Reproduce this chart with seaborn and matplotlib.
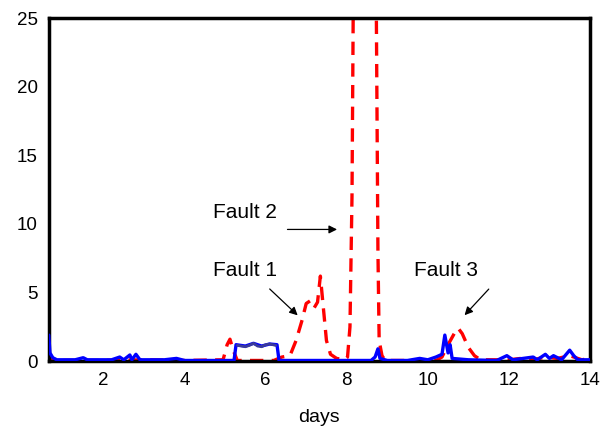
import matplotlib
matplotlib.use("Agg")
import matplotlib.pyplot as plt
import seaborn as sns

# red dashed trace
red_days = [0.65, 0.7, 0.8, 1.5, 2.0, 3.0, 4.0, 4.95, 5.05, 5.12, 5.2, 5.3, 6.2, 6.4,
            6.6, 6.75, 6.9, 7.0, 7.1, 7.2, 7.28, 7.35, 7.42, 7.5, 7.6, 7.75, 7.95,
            8.02, 8.08, 8.13, 8.17, 8.72, 8.77, 8.8, 8.87, 8.95, 10.2, 10.35, 10.5,
            10.65, 10.75, 10.85, 11.0, 11.15, 11.3, 12.0, 12.3, 12.6, 12.9, 13.2,
            13.5, 13.8, 14.0]
red_vals = [0.8, 0.2, 0.05, 0.05, 0.05, 0.1, 0.05, 0.1, 1.2, 1.6, 0.8, 0.05, 0.05, 0.3,
            0.4, 1.5, 3.0, 4.2, 4.4, 3.9, 4.3, 6.2, 4.0, 1.5, 0.5, 0.2, 0.1,
            0.3, 2.5, 12.0, 30.0, 30.0, 8.0, 1.5, 0.4, 0.05, 0.05, 0.3, 1.2,
            2.0, 2.4, 2.0, 1.0, 0.4, 0.1, 0.1, 0.2, 0.1, 0.3, 0.2,
            0.4, 0.1, 0.2]

# blue solid trace
blue_days = [0.65, 0.68, 0.75, 0.85, 1.3, 1.5, 1.6, 2.2, 2.4, 2.5, 2.65, 2.7, 2.8, 2.9,
             3.5, 3.8, 4.0, 5.0, 5.22, 5.27, 5.5, 5.7, 5.9, 6.1, 6.28, 6.33, 8.6,
             8.7, 8.77, 8.82, 9.0, 9.5, 9.8, 10.0, 10.2, 10.35, 10.42, 10.5, 10.55,
             10.6, 11.0, 11.7, 11.95, 12.1, 12.6, 12.7, 12.9, 13.0, 13.1, 13.3,
             13.5, 13.6, 13.7, 14.0]
blue_vals = [1.9, 0.6, 0.25, 0.1, 0.1, 0.25, 0.1, 0.1, 0.3, 0.1, 0.45, 0.1, 0.5, 0.1,
             0.1, 0.2, 0.05, 0.05, 0.05, 1.2, 1.1, 1.3, 1.1, 1.25, 1.2, 0.05, 0.05,
             0.3, 0.9, 0.2, 0.05, 0.05, 0.2, 0.1, 0.3, 0.5, 1.9, 0.6, 1.2,
             0.2, 0.1, 0.05, 0.4, 0.1, 0.3, 0.1, 0.5, 0.2, 0.4, 0.1,
             0.8, 0.4, 0.1, 0.1]

# darker section on top of the block near day 5-6
navy_days = [5.3, 5.4, 5.5, 5.6, 5.7, 5.8, 5.9, 6.0, 6.1, 6.25]
navy_vals = [1.15, 1.1, 1.05, 1.15, 1.3, 1.1, 1.05, 1.2, 1.25, 1.15]

sns.set_style("white")
plt.rcParams["font.family"] = ["Liberation Sans", "DejaVu Sans"]
plt.rcParams["text.color"] = "black"
plt.rcParams["axes.labelcolor"] = "black"

fig = plt.figure(figsize=(6.02, 4.32), dpi=100)
ax = fig.add_axes([0.081, 0.164, 0.899, 0.794])

sns.lineplot(x=red_days, y=red_vals, sort=False, estimator=None, ax=ax,
             color="#ff0000", linewidth=2.4, linestyle=(0, (4, 2.5)), zorder=2)
sns.lineplot(x=blue_days, y=blue_vals, sort=False, estimator=None, ax=ax,
             color="#0000ff", linewidth=2.4, zorder=3)
sns.lineplot(x=navy_days, y=navy_vals, sort=False, estimator=None, ax=ax,
             color="#3a3a9a", linewidth=2.0, zorder=4)

ax.set_xlim(0.65, 14)
ax.set_ylim(0, 25)
ax.set_xticks([2, 4, 6, 8, 10, 12, 14])
ax.set_yticks([0, 5, 10, 15, 20, 25])
ax.tick_params(direction="in", length=3, width=1, labelsize=13.5, pad=8,
               colors="black", labelcolor="black")
for s in ax.spines.values():
    s.set_color("black")
    s.set_linewidth(2.5)
ax.set_xlabel("days", fontsize=14, labelpad=14)
ax.set_ylabel("")

arrow = dict(arrowstyle="-|>", color="black", lw=0.9, mutation_scale=12)
ax.text(4.7, 10.8, "Fault 2", fontsize=15, va="center", ha="left")
ax.annotate("", xy=(7.83, 9.6), xytext=(6.47, 9.6), arrowprops=arrow)
ax.text(4.7, 6.6, "Fault 1", fontsize=15, va="center", ha="left")
ax.annotate("", xy=(6.84, 3.2), xytext=(6.05, 5.4), arrowprops=arrow)
ax.text(9.65, 6.6, "Fault 3", fontsize=15, va="center", ha="left")
ax.annotate("", xy=(10.86, 3.2), xytext=(11.55, 5.4), arrowprops=arrow)

fig.savefig("out.png", dpi=100)
